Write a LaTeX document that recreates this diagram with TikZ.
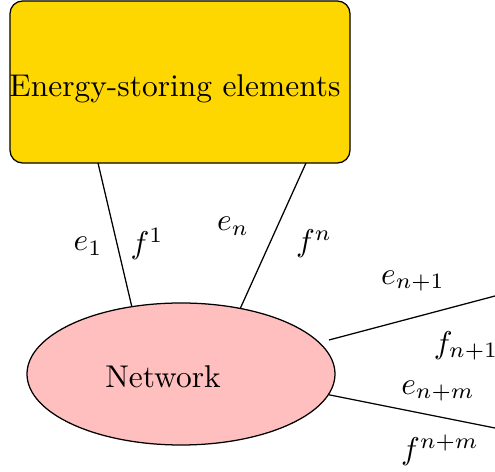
\documentclass[tikz,border=0pt]{standalone}
\usetikzlibrary{shapes.geometric}
\definecolor{boxgold}{RGB}{255,215,0}
\definecolor{netpink}{RGB}{255,191,191}
\begin{document}
\begin{tikzpicture}[x=0.318pt,y=-0.318pt,
  storebox/.style={draw=black, fill=boxgold, rounded corners=4pt, minimum width=340*0.318pt, minimum height=162*0.318pt, inner sep=0pt},
  netshape/.style={draw=black, fill=netpink, ellipse, minimum width=308*0.318pt, minimum height=142*0.318pt, inner sep=0pt},
  lbl/.style={inner sep=0pt},
  wire/.style={draw=black, line width=0.4pt}]
\useasboundingbox (0,0) rectangle (495,472);
\node[storebox] (store) at (180,82) {};
\node[lbl] (storetext) at (175,89) {Energy-storing elements};
\node[netshape] (net) at (181,374) {};
\node[lbl] (nettext) at (163,377) {Network};
\coordinate (s1) at (98,163);
\coordinate (s2) at (306,163);
\coordinate (n1) at (329,340);
\coordinate (o1) at (495,296);
\coordinate (o2) at (495,428);
\draw[wire] (s1) -- (net.126.5);
\draw[wire] (s2) -- (net.48.6);
\draw[wire] (n1) -- (o1);
\draw[wire] (net.-8.9) -- (o2);
\node[lbl] (le1) at (88,246) {$e_1$};
\node[lbl] (lf1) at (147,244) {$f^1$};
\node[lbl] (len) at (233,226) {$e_n$};
\node[lbl] (lfn) at (314,244) {$f^n$};
\node[lbl] (len1) at (413,281) {$e_{n+1}$};
\node[lbl] (lfn1) at (466,346) {$f_{n+1}$};
\node[lbl] (lenm) at (438,391) {$e_{n+m}$};
\node[lbl] (lfnm) at (440,450) {$f^{n+m}$};
\end{tikzpicture}
\end{document}
